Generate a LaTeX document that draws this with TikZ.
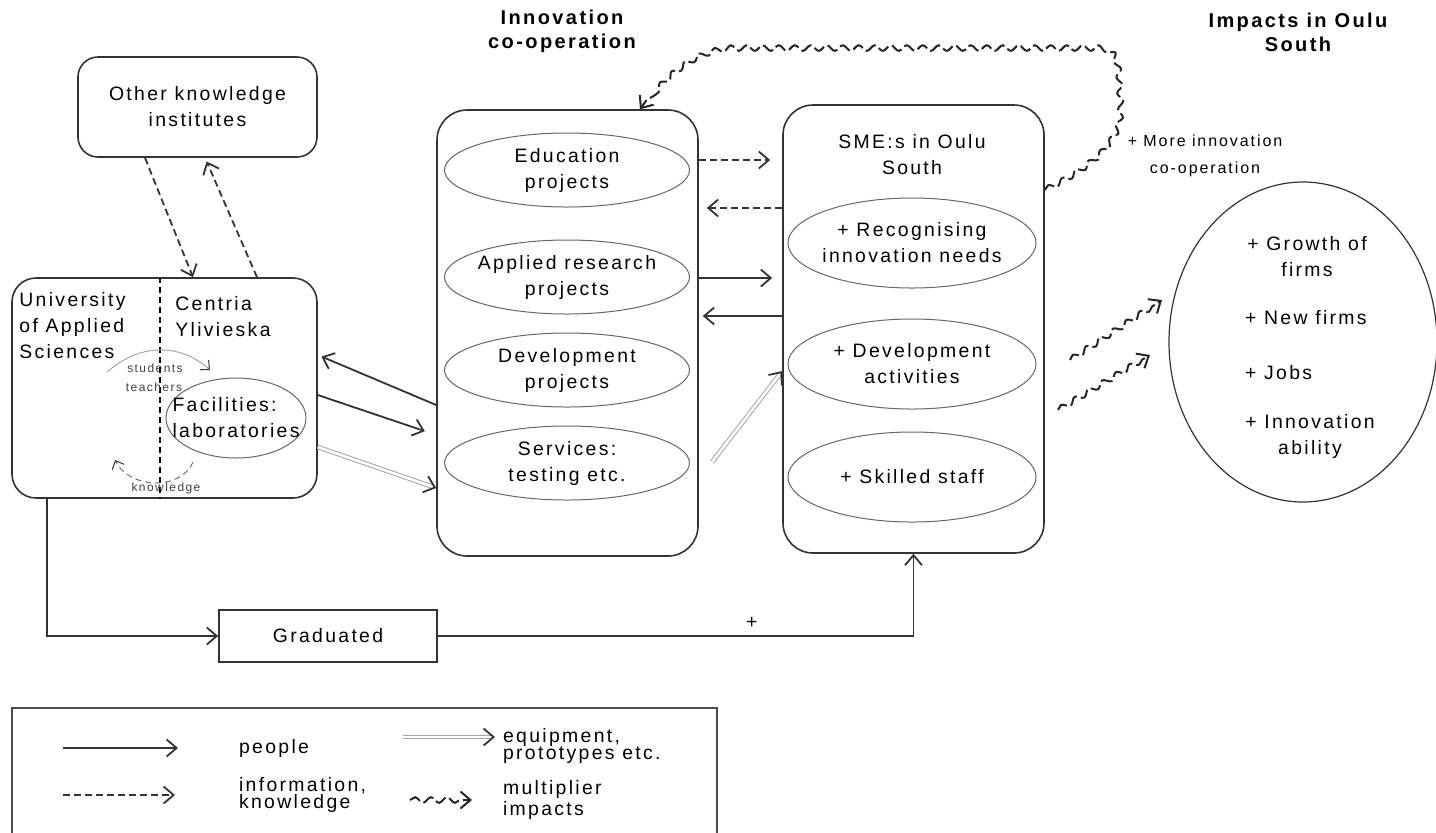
\documentclass[tikz,border=0pt]{standalone}
\usepackage{fontspec}
\setmainfont[LetterSpace=12]{Liberation Sans}
\usetikzlibrary{arrows.meta,shapes.geometric,decorations.pathmorphing,decorations.markings}

\begin{document}
\begin{tikzpicture}[x=.5pt,y=-.5pt,
  font=\fontsize{9.7}{13}\selectfont,
  >={Straight Barb[length=5pt,width=8.5pt]},
  bigbox/.style={draw=black!80,line width=.8pt,rounded corners=15pt},
  proj/.style={ellipse,draw=black!60,line width=.5pt,minimum width=122.5pt,minimum height=37pt},
  smeproj/.style={ellipse,draw=black!60,line width=.5pt,minimum width=124pt,minimum height=45pt},
  people/.style={->,line width=.9pt,draw=black!80},
  info/.style={->,line width=.9pt,draw=black!80,dash pattern=on 3.5pt off 2pt},
  equip/.style={line width=.5pt,draw=black!35,double=white,double distance=1.3pt,shorten >=1.5pt,
    postaction={decorate},decoration={markings,
      mark=at position 1 with {\pgfsetinnerlinewidth{0pt}\arrow[line width=.9pt,black!80]{Straight Barb[length=5pt,width=8.5pt]}}}},
  multi/.style={->,line width=1pt,draw=black!85,dash pattern=on 6pt off 2pt,decorate,
    decoration={snake,segment length=8pt,amplitude=1.4pt,post length=4pt}},
  small/.style={font=\fontsize{6}{9.5}\selectfont,text=black!75},
  legtext/.style={anchor=west,align=left,font=\fontsize{9.7}{8.5}\selectfont}]
\clip[use as bounding box] (0,0) rectangle (1436,832);

% headers
\node[font=\bfseries,align=center] (coophead) at (562,31) {Innovation\\co-operation};
\node[font=\bfseries,align=center] (imphead) at (1298,32) {Impacts in Oulu\\South};

% knowledge institutes
\node[bigbox,rounded corners=10pt,minimum width=119.5pt,minimum height=50pt,align=center] (other) at (197.5,107) {Other knowledge\\institutes};
\node[bigbox,rounded corners=12pt,minimum width=152.5pt,minimum height=110pt] (uas) at (164.5,388) {};
\draw[line width=.8pt,densely dashed] (uas.north -| 160,0) -- (uas.south -| 160,0);
\node[anchor=north west,inner sep=0pt,align=left] (uastxt) at (19,292) {University\\of Applied\\Sciences};
\node[anchor=north west,inner sep=0pt,align=left] (centria) at (175,296) {Centria\\Ylivieska};
\node[ellipse,draw=black!60,line width=.5pt,minimum width=70pt,minimum height=40pt,
  label={[align=left]center:{Facilities:\\laboratories}}] (labs) at (236,418) {};
\node[small] (stud) at (155,368) {students};
\node[small] (teach) at (154,387) {teachers};
\node[small] (knowl) at (166,488) {knowledge};
\coordinate (st1) at (107,372);
\coordinate (st2) at (210,370);
\draw[line width=.5pt,draw=black!35,-{Straight Barb[length=3.5pt,width=6.5pt,color=black!80]}]
  (st1) .. controls (140,343) and (180,343) .. (st2);
\coordinate (kn1) at (193,462);
\coordinate (kn2) at (115,460);
\draw[line width=.5pt,draw=black!55,densely dashed,-{Straight Barb[length=3.5pt,width=6.5pt,color=black!80]}]
  (kn1) .. controls (180,492) and (128,488) .. (kn2);

% innovation co-operation
\node[bigbox,minimum width=130.5pt,minimum height=223pt] (coop) at (567.5,333) {};
\node[proj,label={[align=center]center:{Education\\projects}}] (edu) at (567,170) {};
\node[proj,label={[align=center]center:{Applied research\\projects}}] (appl) at (567,277) {};
\node[proj,label={[align=center]center:{Development\\projects}}] (devp) at (567,370) {};
\node[proj,label={[align=center]center:{Services:\\testing etc.}}] (serv) at (567,463) {};

% SMEs
\node[bigbox,minimum width=130.5pt,minimum height=224pt] (sme) at (913.5,329) {};
\node[align=center] (smetxt) at (912,155) {SME:s in Oulu\\South};
\node[smeproj,label={[align=center]center:{+ Recognising\\innovation needs}}] (recog) at (912,243) {};
\node[smeproj,label={[align=center]center:{+ Development\\activities}}] (devact) at (912,364) {};
\node[smeproj,label={[align=center]center:{+ Skilled staff}}] (staff) at (912,477) {};

% impacts
\node[ellipse,draw=black!80,line width=.6pt,minimum width=134pt,minimum height=160pt] (imp) at (1303,342) {};
\node[align=center] (growth) at (1307,257) {+ Growth of\\firms};
\node[anchor=west] (newf) at (1238,318) {+ New firms};
\node[anchor=west] (jobs) at (1238,373) {+ Jobs};
\node[align=center] (ability) at (1310,436) {+ Innovation\\ability};
\node[font=\fontsize{8}{13.5}\selectfont,align=center] (moreinno) at (1205,156) {+ More innovation\\co-operation};

% graduated
\node[draw=black!80,line width=.8pt,minimum width=109pt,minimum height=26pt] (grad) at (328,636) {Graduated};

% connectors
\draw[info] (other.south -| 145,0) -- (uas.north -| 193,0);
\draw[info,shorten >=2pt] (uas.north -| 257,0) -- (other.south -| 205,0);
\draw[people,shorten >=2pt] (coop.west |- 0,405) -- (uas.east |- 0,355);
\draw[people,shorten >=6pt] (uas.east |- 0,395) -- (coop.west |- 0,435);
\draw[equip] (uas.east |- 0,447) -- (coop.west |- 0,488);
\draw[info,shorten >=6pt] (coop.east |- 0,160) -- (sme.west |- 0,160);
\draw[info,shorten >=4pt] (sme.west |- 0,208) -- (coop.east |- 0,208);
\draw[people,shorten >=5pt] (coop.east |- 0,278) -- (sme.west |- 0,278);
\draw[people,shorten >=2pt] (sme.west |- 0,316) -- (coop.east |- 0,316);
\coordinate (eqstart) at (712,462);
\draw[equip] (eqstart) -- (sme.west |- 0,371);
\draw[people] (uas.south -| 47,0) |- (grad.west);
\draw[people] (grad.east) -| node[above,pos=.33] {+} (sme.south);
\draw[multi] (sme.east |- 0,190) .. controls (1095,165) and (1120,140) .. (1117,105)
  .. controls (1115,75) and (1118,50) .. (1095,50) -- (730,50)
  .. controls (690,52) and (660,80) .. (coop.north -| 640,0);
\coordinate (m1a) at (1070,360);
\coordinate (m1b) at (1162,300);
\coordinate (m2a) at (1058,410);
\coordinate (m2b) at (1150,355);
\draw[multi] (m1a) -- (m1b);
\draw[multi] (m2a) -- (m2b);

% legend
\draw[line width=.6pt,draw=black!70] (12,840) |- (717,708) -- (717,840);
\coordinate (lg1a) at (63,748);
\coordinate (lg1b) at (178,748);
\draw[people] (lg1a) -- (lg1b);
\node[legtext] (lgpeople) at (232,748) {people};
\coordinate (lg2a) at (63,795);
\coordinate (lg2b) at (175,795);
\draw[info] (lg2a) -- (lg2b);
\node[legtext] (lginfo) at (232,795) {information,\\knowledge};
\coordinate (lg3a) at (403,737);
\coordinate (lg3b) at (495,737);
\draw[equip] (lg3a) -- (lg3b);
\node[legtext] (lgequip) at (496,746) {equipment,\\prototypes etc.};
\coordinate (lg4a) at (410,800);
\coordinate (lg4b) at (472,800);
\draw[multi] (lg4a) -- (lg4b);
\node[legtext] (lgmulti) at (496,800) {multiplier\\impacts};
\end{tikzpicture}
\end{document}
